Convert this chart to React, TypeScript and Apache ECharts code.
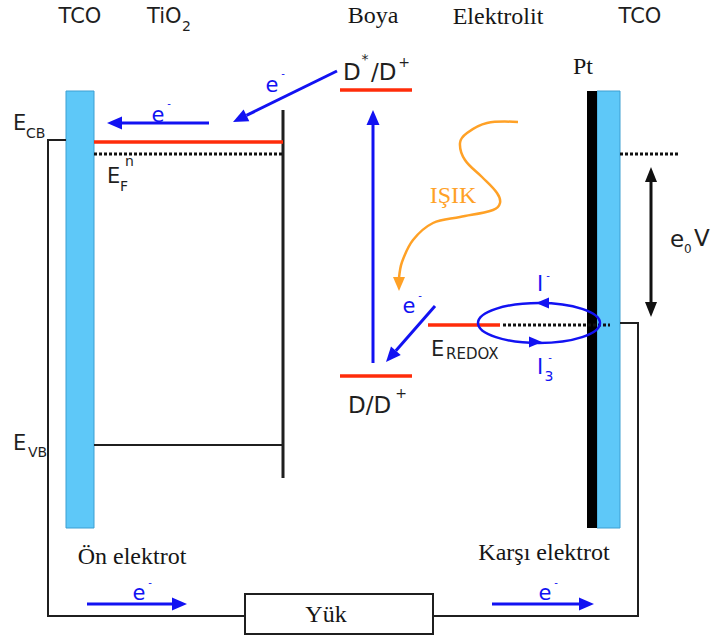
import React, { useEffect, useRef } from "react";
import * as echarts from "echarts";

const WIDTH = 716;
const HEIGHT = 638;

// ---- diagram geometry (data space: x 0..716, y 0..638 from top) ----
const tcoPanels = [
  [66, 91, 94, 528],
  [597, 91, 620, 528],
];
const platinumPanel = [[587, 91, 597, 528]];
const loadBox = [[245, 594, 433, 634]];

const circuitWires = [
  [[66, 140], [48, 140], [48, 616], [245, 616]],
  [[433, 616], [638, 616], [638, 323], [620, 323]],
  [[94, 445], [283, 445]],
];
const tio2Edge = [[[283, 110], [283, 478]]];

const energyLevels = [
  [94, 142, 283, 142],
  [340, 90, 412, 90],
  [340, 376, 412, 376],
  [428, 325, 500, 325],
];
const fermiLevels = [
  [94, 154, 283, 154],
  [503, 325, 610, 325],
  [620, 154, 680, 154],
];

const electronArrows = [
  [209, 123, 107, 123],
  [337, 71, 233, 122],
  [373, 363, 373, 110],
  [435, 306, 386, 362],
  [87, 604, 187, 604],
  [492, 604, 594, 604],
];
const voltageArrow = [[651, 167, 651, 317]];
const redoxLoop = [[539, 323, 61, 20]];
const redoxLoopHeads = [
  [553, 303, 536, 303],
  [525, 342, 542, 342],
];
const lightPath = [
  [518, 122], [487, 123], [467, 133], [460, 143], [465, 160], [482, 177],
  [497, 193], [500, 203], [493, 210], [460, 217], [433, 223], [413, 240],
  [402, 262], [399, 278],
];
const lightHead = [[399, 276, 399, 291]];

// ---- texts: [text, x, y, style, align] ----
const darkLabels: [string, number, number, string, string][] = [
  ["TCO", 80, 16, "sans", "center"],
  ["TiO", 147, 16, "sans", "left"],
  ["2", 182, 26, "sansSub", "left"],
  ["TCO", 640, 16, "sans", "center"],
  ["E", 13, 123, "sans", "left"],
  ["CB", 26, 133, "sansSub", "left"],
  ["E", 107, 176, "sans", "left"],
  ["F", 120, 186, "sansSub", "left"],
  ["n", 125, 161, "sansSub", "left"],
  ["E", 13, 443, "sans", "left"],
  ["VB", 28, 452, "sansSub", "left"],
  ["D", 343, 72, "sansD", "left"],
  ["*", 365, 59, "sansSub", "center"],
  ["/D", 371, 72, "sansD", "left"],
  ["+", 404, 62, "sansSub", "center"],
  ["D/D", 348, 405, "sansD", "left"],
  ["+", 401, 393, "sansSub", "center"],
  ["E", 431, 349, "sans", "left"],
  ["REDOX", 446, 354, "sansSmall", "left"],
  ["e", 670, 239, "sansBig", "left"],
  ["0", 684, 249, "sansTiny", "left"],
  ["V", 694, 238, "sansBig", "left"],
  ["Boya", 373, 15, "serif", "center"],
  ["Elektrolit", 498, 16, "serif", "center"],
  ["Pt", 583, 66, "serif", "center"],
  ["Ön elektrot", 132, 556, "serif", "center"],
  ["Karşı elektrot", 544, 552, "serif", "center"],
  ["Yük", 326, 614, "serif", "center"],
  ["IŞIK", 453, 195, "orange", "center"],
];
const blueLabels: [string, number, number, string, string][] = [
  ["e", 158, 115, "blue", "center"],
  ["-", 169, 103, "blueSup", "center"],
  ["e", 272, 85, "blue", "center"],
  ["-", 283, 73, "blueSup", "center"],
  ["e", 409, 306, "blue", "center"],
  ["-", 420, 295, "blueSup", "center"],
  ["e", 139, 593, "blue", "center"],
  ["-", 150, 582, "blueSup", "center"],
  ["e", 545, 593, "blue", "center"],
  ["-", 556, 582, "blueSup", "center"],
  ["I", 540, 284, "blue", "center"],
  ["-", 548, 275, "blueSup", "center"],
  ["I", 540, 367, "blue", "center"],
  ["3", 549, 376, "blueSub", "center"],
  ["-", 550, 357, "blueSup", "center"],
];

// ---- styles ----
const SANS = '"DejaVu Sans", Verdana, sans-serif';
const SERIF = '"Liberation Serif", "Times New Roman", serif';
const INK = "#1f1f1f";
const BLUE = "#1212f2";
const RED = "#ff2c0a";
const CYAN = "#5ec8f8";
const ORANGE = "#ffa126";

const textStyles: Record<string, { font: string; fill: string }> = {
  sans: { font: `normal 21px ${SANS}`, fill: INK },
  sansD: { font: `normal 23px ${SANS}`, fill: INK },
  sansBig: { font: `normal 23px ${SANS}`, fill: INK },
  sansSub: { font: `normal 14px ${SANS}`, fill: INK },
  sansTiny: { font: `normal 12px ${SANS}`, fill: INK },
  sansSmall: { font: `normal 15px ${SANS}`, fill: INK },
  serif: { font: `normal 24px ${SERIF}`, fill: "#161616" },
  orange: { font: `normal 24px ${SERIF}`, fill: ORANGE },
  blue: { font: `normal 21px ${SANS}`, fill: BLUE },
  blueSub: { font: `normal 14px ${SANS}`, fill: BLUE },
  blueSup: { font: `normal 10px ${SANS}`, fill: BLUE },
};

function headPoints(tip: number[], from: number[], len: number, half: number) {
  const dx = tip[0] - from[0];
  const dy = tip[1] - from[1];
  const d = Math.hypot(dx, dy) || 1;
  const ux = dx / d;
  const uy = dy / d;
  const bx = tip[0] - ux * len;
  const by = tip[1] - uy * len;
  return {
    base: [bx, by],
    pts: [tip, [bx - uy * half, by + ux * half], [bx + uy * half, by - ux * half]],
  };
}

function custom(name: string, items: any[], z: number, render: (item: any, api: any) => any) {
  return {
    type: "custom",
    name,
    coordinateSystem: "cartesian2d",
    clip: false,
    silent: true,
    z,
    data: items.map((_: any, i: number) => [i, 0]),
    renderItem: (params: any, api: any) => render(items[params.dataIndex], api),
  };
}

function rectRender(fill: string, stroke: string, lw: number) {
  return (r: number[], api: any) => {
    const a = api.coord([r[0], r[1]]);
    const b = api.coord([r[2], r[3]]);
    return {
      type: "rect",
      shape: { x: a[0], y: a[1], width: b[0] - a[0], height: b[1] - a[1] },
      style: { fill, stroke, lineWidth: lw },
    };
  };
}

function segRender(stroke: string, lw: number, dash?: number[]) {
  return (s: number[], api: any) => {
    const a = api.coord([s[0], s[1]]);
    const b = api.coord([s[2], s[3]]);
    return {
      type: "line",
      shape: { x1: a[0], y1: a[1], x2: b[0], y2: b[1] },
      style: { stroke, lineWidth: lw, lineDash: dash, lineCap: "butt" },
    };
  };
}

function polyRender(stroke: string, lw: number) {
  return (pts: number[][], api: any) => ({
    type: "polyline",
    shape: { points: pts.map((p) => api.coord(p)) },
    style: { stroke, lineWidth: lw, fill: "none", lineJoin: "miter" },
  });
}

function arrowRender(color: string, lw: number, len: number, half: number, both: boolean) {
  return (s: number[], api: any) => {
    const a = api.coord([s[0], s[1]]);
    const b = api.coord([s[2], s[3]]);
    const hb = headPoints(b, a, len, half);
    const children: any[] = [
      { type: "polygon", shape: { points: hb.pts }, style: { fill: color } },
    ];
    let start = a;
    if (both) {
      const ha = headPoints(a, b, len, half);
      children.push({ type: "polygon", shape: { points: ha.pts }, style: { fill: color } });
      start = ha.base;
    }
    children.unshift({
      type: "line",
      shape: { x1: start[0], y1: start[1], x2: hb.base[0], y2: hb.base[1] },
      style: { stroke: color, lineWidth: lw },
    });
    return { type: "group", children };
  };
}

function headRender(color: string, len: number, half: number) {
  return (s: number[], api: any) => {
    const a = api.coord([s[0], s[1]]);
    const b = api.coord([s[2], s[3]]);
    const h = headPoints(b, a, len, half);
    return { type: "polygon", shape: { points: h.pts }, style: { fill: color } };
  };
}

function textRender() {
  return (l: [string, number, number, string, string], api: any) => {
    const p = api.coord([l[1], l[2]]);
    const st = textStyles[l[3]];
    return {
      type: "text",
      x: p[0],
      y: p[1],
      style: {
        text: l[0],
        font: st.font,
        fill: st.fill,
        align: l[4],
        verticalAlign: "middle",
        textAlign: l[4],
        textVerticalAlign: "middle",
      },
    };
  };
}

export default function App() {
  const ref = useRef<HTMLDivElement>(null);
  useEffect(() => {
    if (!ref.current) return;
    const chart = echarts.init(ref.current, null, { renderer: "svg" });
    chart.setOption({
      animation: false,
      backgroundColor: "#ffffff",
      grid: { left: 0, right: 0, top: 0, bottom: 0 },
      xAxis: { type: "value", min: 0, max: WIDTH, show: false },
      yAxis: { type: "value", min: 0, max: HEIGHT, inverse: true, show: false },
      series: [
        custom("tco", tcoPanels, 1, rectRender(CYAN, "#3c9fd2", 1)),
        custom("pt", platinumPanel, 2, rectRender("#000000", "#000000", 0)),
        custom("load", loadBox, 2, rectRender("#ffffff", INK, 2)),
        custom("wires", circuitWires, 2, polyRender(INK, 2)),
        custom("tio2", tio2Edge, 2, polyRender(INK, 3)),
        custom("levels", energyLevels, 3, segRender(RED, 3.5)),
        custom("fermi", fermiLevels, 3, segRender("#111111", 3, [3, 2])),
        custom("loop", redoxLoop, 4, (e: number[], api: any) => {
          const c = api.coord([e[0], e[1]]);
          return {
            type: "ellipse",
            shape: { cx: c[0], cy: c[1], rx: e[2], ry: e[3] },
            style: { fill: "none", stroke: BLUE, lineWidth: 2.5 },
          };
        }),
        custom("loopHeads", redoxLoopHeads, 5, headRender(BLUE, 13, 5.5)),
        custom("electrons", electronArrows, 5, arrowRender(BLUE, 3, 15, 6.5, false)),
        custom("voltage", voltageArrow, 5, arrowRender("#111111", 3, 15, 6, true)),
        custom("light", [lightPath], 5, (pts: number[][], api: any) => ({
          type: "polyline",
          shape: { points: pts.map((p) => api.coord(p)), smooth: 0.35 },
          style: { stroke: ORANGE, lineWidth: 2.5, fill: "none" },
        })),
        custom("lightHead", lightHead, 5, headRender(ORANGE, 14, 6)),
        custom("darkText", darkLabels, 6, textRender()),
        custom("blueText", blueLabels, 6, textRender()),
      ],
    });
    return () => chart.dispose();
  }, []);
  return (
    <div
      ref={ref}
      style={{ position: "fixed", left: 0, top: 0, width: WIDTH, height: HEIGHT, background: "#fff" }}
    />
  );
}
